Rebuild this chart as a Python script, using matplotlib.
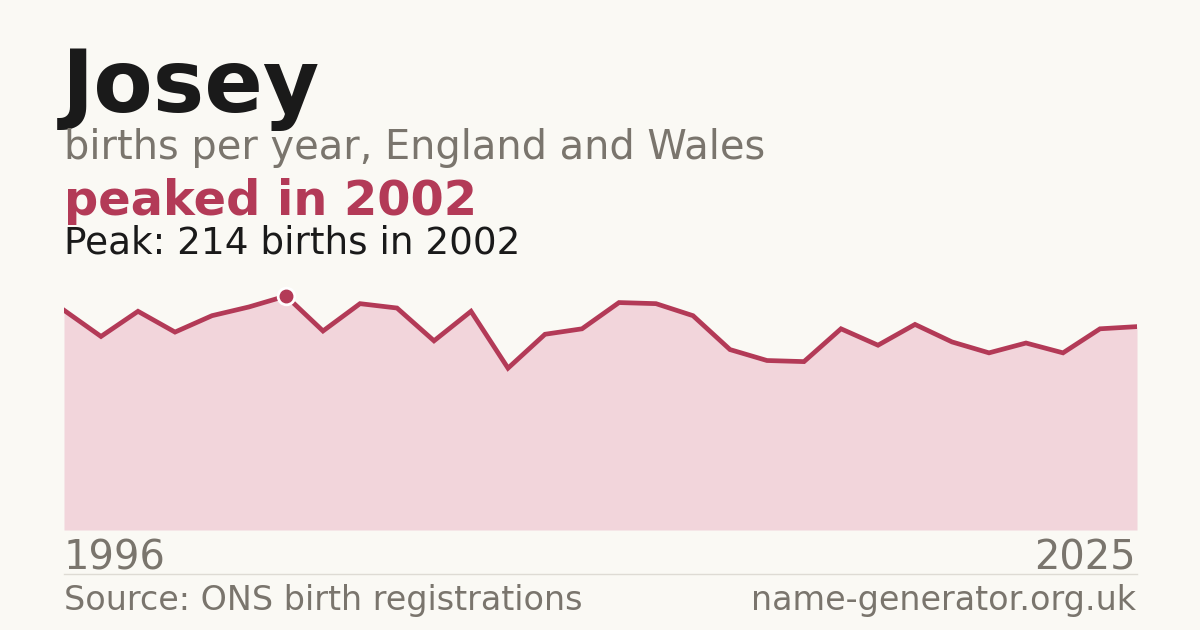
import numpy as np
import matplotlib
matplotlib.use("Agg")
import matplotlib.pyplot as plt

# data
years = list(range(1996, 2026))
births = [201, 177, 200, 181, 196, 204, 214, 182, 207, 203,
          173, 200, 148, 179, 184, 208, 207, 196, 165, 155,
          154, 184, 169, 188, 172, 162, 171, 162, 184, 186]

name = "Josey"
subtitle = "births per year, England and Wales"
source = "Source: ONS birth registrations"
site = "name-generator.org.uk"

bg = "#FAF9F4"
red = "#B33A57"
fill = "#F2D5DB"
grey = "#7A756D"
dark = "#1A1A1A"

W, H = 1200, 630
fig = plt.figure(figsize=(W / 100, H / 100), dpi=100, facecolor=bg)

peak_i = int(np.argmax(births))
peak_year = years[peak_i]
peak_val = births[peak_i]

# axes: x from 64 to 1137 px, y from 530 up
x0, x1 = 64, 1137
ybot, ytop = 530, 530 - 234 * 1.1
ax = fig.add_axes([x0 / W, 1 - ybot / H, (x1 - x0) / W, (ybot - ytop) / H])
ax.set_facecolor(bg)
ax.fill_between(years, births, 0, color=fill, lw=0)
ax.plot(years, births, color=red, lw=3.4, solid_joinstyle="miter")
ax.plot([peak_year], [peak_val], "o", ms=13, color="white", zorder=3)
ax.plot([peak_year], [peak_val], "o", ms=9, color=red, zorder=4)
ax.set_xlim(years[0], years[-1])
ax.set_ylim(0, peak_val * 1.1)
ax.axis("off")

def px(x, y):
    return x / W, 1 - y / H

fig.text(*px(62, 112), name, fontsize=62.3, fontweight="bold", color=dark, va="baseline")
fig.text(*px(64, 159), subtitle, fontsize=28.7, color=grey, va="baseline")
fig.text(*px(64, 215), f"peaked in {peak_year}", fontsize=34.5, fontweight="bold", color=red, va="baseline")
fig.text(*px(64, 253), f"Peak: {peak_val} births in {peak_year}", fontsize=26.9, color=dark, va="baseline")

fig.text(*px(64, 570), str(years[0]), fontsize=28.8, color=grey, va="baseline")
fig.text(*px(1136, 570), str(years[-1]), fontsize=28.8, color=grey, va="baseline", ha="right")
fig.add_artist(plt.Line2D([x0 / W, x1 / W], [1 - 574 / H] * 2, color="#DEDBD4", lw=1))
fig.text(*px(64, 610), source, fontsize=24, color=grey, va="baseline")
fig.text(*px(1136, 610), site, fontsize=24, color=grey, va="baseline", ha="right")

fig.savefig("out.png", dpi=100, facecolor=bg)
